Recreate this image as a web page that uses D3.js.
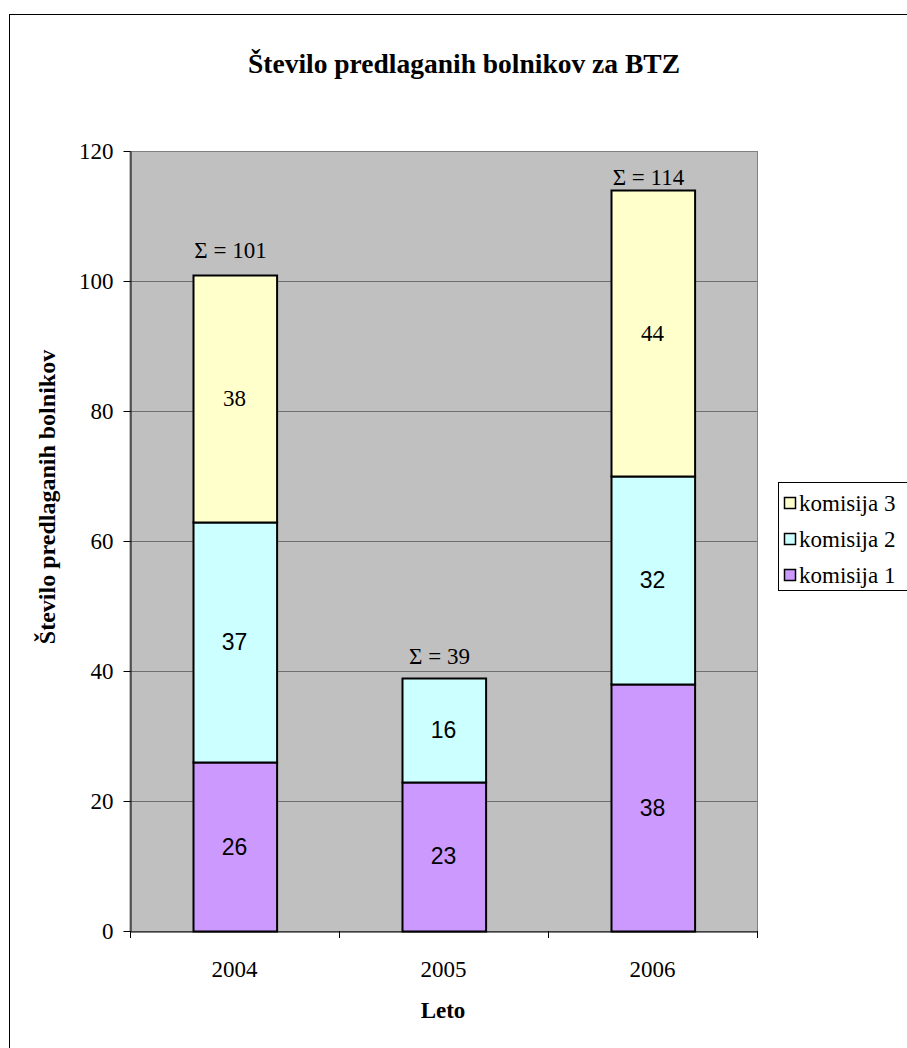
<!DOCTYPE html>
<html>
<head>
<meta charset="utf-8">
<script src="https://cdn.jsdelivr.net/npm/d3@7"></script>
<style>
  html, body { margin: 0; padding: 0; background: #fff; }
  svg { display: block; }
</style>
</head>
<body>
<svg id="chart" width="907" height="1048"></svg>
<script>
// Years on the x axis
const years = ["2004", "2005", "2006"];
// Patients proposed by each commission per year
const komisija1 = [26, 23, 38];
const komisija2 = [37, 16, 32];
const komisija3 = [38, 0, 44];
const seriesNames = ["komisija 1", "komisija 2", "komisija 3"];
const yTicks = [0, 20, 40, 60, 80, 100, 120];

const colors = ["#CC99FF", "#CCFFFF", "#FFFFCC"];
const serif = "'Liberation Serif', 'Times New Roman', serif";
const sans = "'Liberation Sans', Arial, sans-serif";
const fontSize = "23px";

const svg = d3.select("#chart");

// outer chart frame
svg.append("rect")
  .attr("x", 9.5).attr("y", 14.5)
  .attr("width", 940).attr("height", 1060)
  .attr("fill", "#fff").attr("stroke", "#000").attr("stroke-width", 1);

const plot = { left: 130, right: 757, top: 151, bottom: 931 };

const x = d3.scaleBand().domain(years).range([plot.left, plot.right]).paddingInner(0.6).paddingOuter(0.3);
const xCat = d3.scaleBand().domain(years).range([plot.left, plot.right]);
const y = d3.scaleLinear().domain([0, 120]).range([plot.bottom, plot.top]);

// plot background
svg.append("rect")
  .attr("x", plot.left).attr("y", plot.top + 0.5)
  .attr("width", plot.right - plot.left + 0.5).attr("height", plot.bottom - plot.top)
  .attr("fill", "#C0C0C0").attr("stroke", "#808080").attr("stroke-width", 1);

// gridlines
svg.append("g").selectAll("line")
  .data(yTicks.filter(t => t > 0 && t < 120))
  .join("line")
  .attr("x1", plot.left).attr("x2", plot.right)
  .attr("y1", d => Math.round(y(d)) + 0.5).attr("y2", d => Math.round(y(d)) + 0.5)
  .attr("stroke", "#6e6e6e").attr("stroke-width", 1);

// stacked bars
const rows = years.map((yr, i) => ({ year: yr, "komisija 1": komisija1[i], "komisija 2": komisija2[i], "komisija 3": komisija3[i] }));
const stack = d3.stack().keys(seriesNames)(rows);

const layers = svg.append("g").selectAll("g").data(stack).join("g")
  .attr("fill", (d, i) => colors[i]);

layers.selectAll("rect")
  .data(d => d.filter(p => p[1] - p[0] > 0))
  .join("rect")
  .attr("x", p => Math.round(x(p.data.year)) + 0.5)
  .attr("width", x.bandwidth())
  .attr("y", p => Math.round(y(p[1])) + 0.5)
  .attr("height", p => Math.round(y(p[0])) - Math.round(y(p[1])))
  .attr("stroke", "#000").attr("stroke-width", 2);

// segment value labels (top series set in serif, the others in sans)
layers.each(function (layer, li) {
  d3.select(this).selectAll("text")
    .data(layer.filter(p => p[1] - p[0] > 0))
    .join("text")
    .attr("x", p => x(p.data.year) + x.bandwidth() / 2)
    .attr("y", p => y((p[0] + p[1]) / 2))
    .attr("dy", "0.35em")
    .attr("text-anchor", "middle")
    .attr("fill", "#000")
    .style("font-family", li === 2 ? serif : sans)
    .style("font-size", fontSize)
    .text(p => p[1] - p[0]);
});

// totals above each bar
const totals = years.map((yr, i) => komisija1[i] + komisija2[i] + komisija3[i]);
const totalLift = [25, 22, 13];
svg.append("g").selectAll("text")
  .data(years)
  .join("text")
  .attr("x", d => x(d) + x.bandwidth() / 2 - 4)
  .attr("y", (d, i) => y(totals[i]) - totalLift[i])
  .attr("dy", "0.35em")
  .attr("text-anchor", "middle")
  .style("font-family", serif).style("font-size", fontSize)
  .text((d, i) => "Σ = " + totals[i]);

// y axis
const yAxis = svg.append("g")
  .attr("transform", `translate(${plot.left + 0.5},0)`)
  .call(d3.axisLeft(y).tickValues(yTicks).tickSize(7).tickPadding(10).tickSizeOuter(0));
yAxis.select(".domain").attr("stroke", "#000");
yAxis.selectAll(".tick line").attr("stroke", "#000");
yAxis.selectAll("text").style("font-family", serif).style("font-size", fontSize).attr("fill", "#000");

// x axis
const xAxis = svg.append("g")
  .attr("transform", `translate(0,${plot.bottom + 0.5})`)
  .call(d3.axisBottom(xCat).tickSize(0).tickPadding(29).tickSizeOuter(0));
xAxis.select(".domain").attr("stroke", "#000");
xAxis.selectAll("text").style("font-family", serif).style("font-size", fontSize).attr("fill", "#000");
// category boundary ticks
svg.append("g").selectAll("line")
  .data([...years.map(d => xCat(d)), plot.right])
  .join("line")
  .attr("x1", d => Math.round(d) + 0.5).attr("x2", d => Math.round(d) + 0.5)
  .attr("y1", plot.bottom).attr("y2", plot.bottom + 7)
  .attr("stroke", "#000");

// titles
svg.append("text")
  .attr("x", 464).attr("y", 73)
  .attr("text-anchor", "middle")
  .style("font-family", serif).style("font-size", "27.5px").style("font-weight", "bold")
  .text("Število predlaganih bolnikov za BTZ");

svg.append("text")
  .attr("transform", "translate(55,497) rotate(-90)")
  .attr("text-anchor", "middle")
  .style("font-family", serif).style("font-size", "24px").style("font-weight", "bold")
  .text("Število predlaganih bolnikov");

svg.append("text")
  .attr("x", 443).attr("y", 1018)
  .attr("text-anchor", "middle")
  .style("font-family", serif).style("font-size", fontSize).style("font-weight", "bold")
  .text("Leto");

// legend
const legend = svg.append("g");
legend.append("rect")
  .attr("x", 778.5).attr("y", 482.5).attr("width", 200).attr("height", 108)
  .attr("fill", "#fff").attr("stroke", "#000");
const legendItems = seriesNames.slice().reverse();
legend.selectAll("g.item")
  .data(legendItems)
  .join("g")
  .attr("class", "item")
  .attr("transform", (d, i) => `translate(784,${503 + i * 36})`)
  .each(function (d) {
    const g = d3.select(this);
    g.append("rect")
      .attr("x", 0.5).attr("y", -5.5).attr("width", 11).attr("height", 11)
      .attr("fill", colors[seriesNames.indexOf(d)]).attr("stroke", "#000").attr("stroke-width", 1.5);
    g.append("text")
      .attr("x", 15).attr("y", 0).attr("dy", "0.35em")
      .style("font-family", serif).style("font-size", fontSize)
      .text(d);
  });
</script>
</body>
</html>
